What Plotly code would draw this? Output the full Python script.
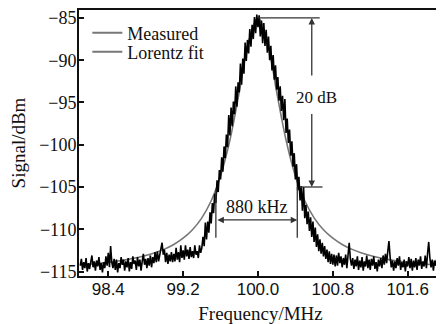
import plotly.graph_objects as go

# ---------------- data ----------------
meas_f0 = 98.1       # first sample frequency (MHz)
meas_df = 0.0125     # sample spacing (MHz)
measured_dbm = [
    # 98.1000 - 99.3375 (noise floor, slow rise)
    -114.3, -113.5, -114.8, -113.9, -114.6, -113.4, -115.0, -114.0, -114.7, -113.6,
    -113.1, -114.5, -113.8, -114.9, -113.7, -114.4, -113.3, -114.8, -114.0, -115.1,
    -113.9, -114.6, -113.2, -114.3, -112.8, -114.5, -112.0, -113.9, -114.6, -113.5,
    -114.8, -113.6, -115.1, -114.0, -114.6, -113.3, -114.2, -113.6, -114.9, -113.8,
    -114.5, -113.4, -115.0, -113.9, -114.7, -113.2, -114.1, -113.7, -114.8, -113.3,
    -114.4, -113.6, -114.9, -113.8, -112.9, -114.2, -113.5, -114.6, -113.4, -114.3,
    -113.1, -114.5, -113.3, -114.0, -112.7, -113.9, -112.6, -113.8, -113.2, -112.3,
    -111.6, -113.0, -112.4, -113.9, -112.8, -114.1, -113.0, -113.8, -112.7, -113.9,
    -112.9, -113.8, -112.2, -113.6, -112.7, -113.9, -111.9, -113.4, -112.5, -113.6,
    -111.9, -113.2, -112.4, -113.5, -112.1, -113.3, -112.6, -113.4, -111.9, -113.0,
    # 99.3500 - 100.6500 (resonance)
    -112.6, -113.4, -111.9, -112.8, -112.2, -110.9, -112.0, -109.2, -111.2, -109.1,
    -110.4, -108.0, -109.3, -106.9, -108.1, -105.8, -106.9, -104.2, -105.6, -103.0,
    -104.1, -101.5, -103.2, -100.2, -101.6, -98.8, -100.3, -96.5, -98.9, -95.6,
    -97.8, -94.9, -96.4, -93.1, -95.5, -92.6, -93.8, -90.4, -92.9, -89.8,
    -91.6, -87.9, -90.1, -87.6, -89.2, -86.3, -88.4, -85.8, -87.5, -84.9,
    -86.8, -84.6, -86.1, -84.7, -87.2, -85.3, -88.0, -85.6, -88.3, -86.4,
    -89.1, -87.2, -90.0, -88.3, -91.2, -89.4, -92.3, -90.6, -93.5, -92.0,
    -94.8, -93.1, -96.0, -94.2, -97.1, -94.6, -98.6, -96.9, -99.8, -98.2,
    -101.3, -99.6, -102.6, -101.0, -104.1, -102.3, -105.4, -103.8, -106.6, -104.9,
    -107.8, -105.0, -108.7, -107.1, -109.4, -107.9, -110.2, -108.6, -110.9, -109.1,
    -111.5, -109.8, -112.1, -110.6, -112.6,
    # 100.6625 - 101.9500 (tail and noise floor)
    -111.2, -112.9, -111.6, -113.2, -112.0, -113.5, -112.4, -113.9, -112.6, -114.1,
    -112.9, -114.2, -113.0, -114.4, -113.1, -114.3, -112.8, -114.0, -113.2, -114.5,
    -113.4, -114.2, -113.0, -114.6, -112.9, -111.6, -113.5, -114.3, -113.4, -114.7,
    -113.6, -114.4, -113.2, -114.8, -113.7, -114.5, -113.3, -114.9, -113.8, -114.4,
    -113.1, -114.6, -113.6, -114.8, -113.5, -114.3, -113.2, -114.7, -113.9, -115.0,
    -113.6, -114.4, -113.4, -114.6, -113.1, -114.2, -112.9, -114.0, -112.6, -111.4,
    -113.3, -114.5, -113.7, -114.9, -113.8, -114.6, -113.4, -114.3, -113.2, -114.8,
    -113.9, -114.5, -113.6, -115.0, -113.8, -114.4, -113.3, -114.6, -113.5, -114.9,
    -113.7, -114.5, -113.4, -114.8, -113.6, -114.3, -113.2, -114.7, -113.8, -114.4,
    -113.1, -114.6, -112.9, -111.5, -113.4, -114.5, -113.6, -114.9, -113.7, -114.3,
    -113.4, -114.8, -113.9, -114.4,
]

fit_freq = [98.1, 98.2, 98.3, 98.4, 98.5, 98.6, 98.7, 98.8, 98.9, 99.0,
            99.1, 99.2, 99.3, 99.4, 99.5, 99.6, 99.7, 99.8, 99.9, 100.0,
            100.1, 100.2, 100.3, 100.4, 100.5, 100.6, 100.7, 100.8, 100.9, 101.0,
            101.1, 101.2, 101.3, 101.4, 101.5, 101.6, 101.7, 101.8, 101.9, 101.95]
fit_dbm = [-114.22, -114.13, -114.03, -113.91, -113.76, -113.59, -113.38, -113.11, -112.78, -112.35,
           -111.80, -111.06, -110.06, -108.65, -106.63, -103.70, -99.46, -93.78, -87.81, -85.00,
           -87.81, -93.78, -99.46, -103.70, -106.63, -108.65, -110.06, -111.06, -111.80, -112.35,
           -112.78, -113.11, -113.38, -113.59, -113.76, -113.91, -114.03, -114.13, -114.22, -114.26]

x_ticks = [98.4, 99.2, 100.0, 100.8, 101.6]
y_ticks = [-85, -90, -95, -100, -105, -110, -115]

# annotation values
peak_level = -85.0
level_20db = -105.0
f_low = 99.55
f_high = 100.42
f_center = 100.0
f_arrow = 100.575
y_880 = -108.9

SERIF = "Liberation Serif, Times New Roman, serif"
SANS = "Liberation Sans, Arial, sans-serif"
ANN = "#333333"

fig = go.Figure()

fig.add_trace(go.Scatter(
    x=fit_freq, y=fit_dbm, mode="lines", name="Lorentz fit",
    line=dict(color="#777777", width=1.6, shape="spline"), showlegend=False))
fig.add_trace(go.Scatter(
    x0=meas_f0, dx=meas_df, y=measured_dbm, mode="lines", name="Measured",
    line=dict(color="#000000", width=1.6), showlegend=False))

# legend entries (gray samples as in the original)
fig.add_trace(go.Scatter(x=[None], y=[None], mode="lines", name="Measured",
                         line=dict(color="#777777", width=2), legend="legend"))
fig.add_trace(go.Scatter(x=[None], y=[None], mode="lines", name="Lorentz fit",
                         line=dict(color="#777777", width=2), legend="legend2"))

shapes = [
    dict(type="line", xref="x", yref="y", x0=f_center, x1=100.66, y0=peak_level, y1=peak_level,
         line=dict(color=ANN, width=1.3)),
    dict(type="line", xref="x", yref="y", x0=100.45, x1=100.69, y0=level_20db, y1=level_20db,
         line=dict(color=ANN, width=1.3)),
    dict(type="line", xref="x", yref="y", x0=f_low, x1=f_low, y0=-105.2, y1=-111.0,
         line=dict(color=ANN, width=1.3)),
    dict(type="line", xref="x", yref="y", x0=f_high, x1=f_high, y0=-105.0, y1=-111.0,
         line=dict(color=ANN, width=1.3)),
]

annotations = [
    dict(x=f_arrow, y=peak_level, ax=f_arrow, ay=-92.0, xref="x", yref="y", axref="x", ayref="y",
         showarrow=True, arrowhead=2, arrowsize=1, arrowwidth=1.3, arrowcolor=ANN, text=""),
    dict(x=f_arrow, y=level_20db, ax=f_arrow, ay=-96.2, xref="x", yref="y", axref="x", ayref="y",
         showarrow=True, arrowhead=2, arrowsize=1, arrowwidth=1.3, arrowcolor=ANN, text=""),
    dict(x=f_high, y=y_880, ax=f_low, ay=y_880, xref="x", yref="y", axref="x", ayref="y",
         showarrow=True, arrowhead=2, arrowsize=1, arrowwidth=1.3, arrowcolor=ANN,
         arrowside="end+start", text=""),
    dict(x=100.625, y=-94.45, xref="x", yref="y", text="20 dB", showarrow=False,
         font=dict(family=SERIF, size=17, color="#111111")),
    dict(x=99.99, y=-107.4, xref="x", yref="y", text="880 kHz", showarrow=False,
         font=dict(family=SERIF, size=18, color="#111111")),
]

# the page body adds an 8 px offset; the figure is sized so the plot lands
# where the original chart has it inside the 444 x 324 window
fig.update_layout(
    template="none",
    width=436, height=316,
    margin=dict(l=71, r=2, t=2, b=48, autoexpand=False),
    paper_bgcolor="white", plot_bgcolor="white",
    font=dict(family=SERIF, size=17, color="#111111"),
    shapes=shapes, annotations=annotations,
    legend=dict(x=0.023, y=0.913, xanchor="left", yanchor="middle",
                bgcolor="rgba(0,0,0,0)", borderwidth=0, font=dict(family=SERIF, size=18)),
    legend2=dict(x=0.023, y=0.842, xanchor="left", yanchor="middle",
                 bgcolor="rgba(0,0,0,0)", borderwidth=0, font=dict(family=SERIF, size=18)),
    xaxis=dict(range=[98.087, 101.967], tickvals=x_ticks, tickformat=".1f", automargin=False,
               ticks="inside", ticklen=5, tickwidth=1.5, tickcolor="#111111",
               showline=True, linewidth=2, linecolor="#111111", mirror=True,
               showgrid=False, zeroline=False, ticklabelstandoff=-3,
               tickfont=dict(family=SANS, size=17, color="#111111"),
               title=dict(text="Frequency/MHz", font=dict(family=SERIF, size=19), standoff=17)),
    yaxis=dict(range=[-115.53, -84.06], tickvals=y_ticks, automargin=False,
               ticks="inside", ticklen=5, tickwidth=1.5, tickcolor="#111111",
               showline=True, linewidth=2, linecolor="#111111", mirror=True,
               showgrid=False, zeroline=False, ticklabelstandoff=-3,
               tickfont=dict(family=SERIF, size=18, color="#111111"),
               title=dict(text="Signal/dBm", font=dict(family=SERIF, size=19), standoff=17)),
)

assert len(measured_dbm) == 309

fig.write_html("out.html")
